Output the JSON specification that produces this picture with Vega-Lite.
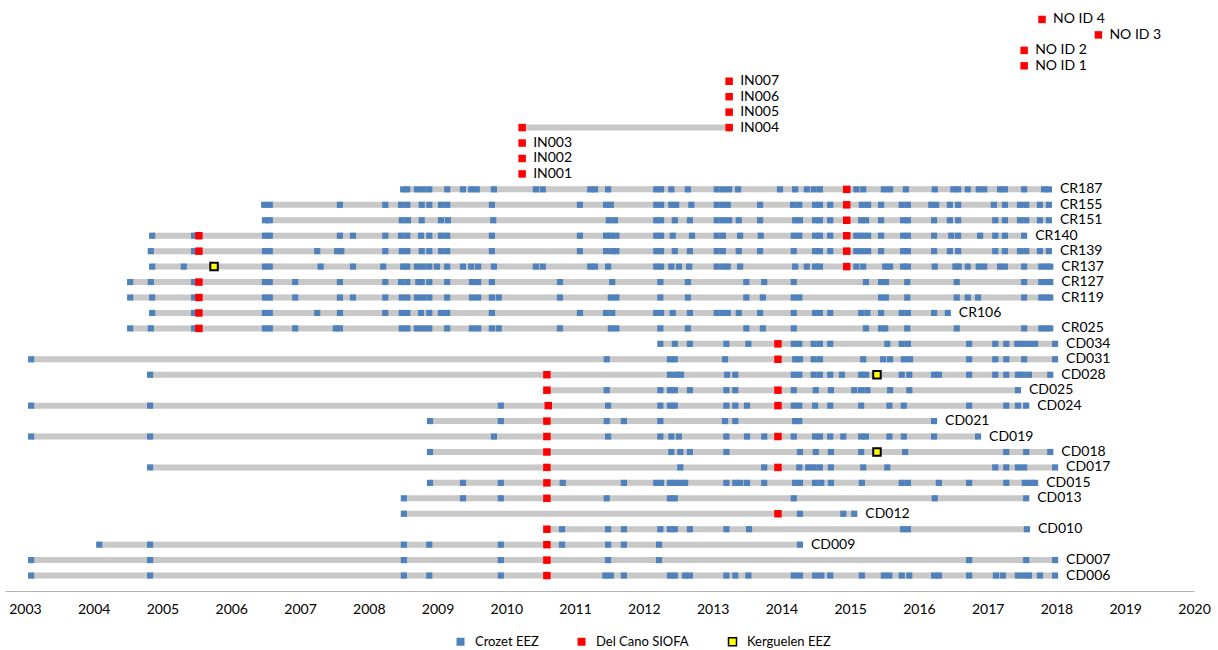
{
"$schema": "https://vega.github.io/schema/vega-lite/v6.json",
"width": 1189,
"height": 587,
"padding": {"left": 5, "top": 4, "right": 5, "bottom": 0},
"config": {"view": {"stroke": null}, "font": "Lato"},
"datasets": {
"spans": [
{"id":"CR187","start":2008.50,"end":2017.89},
{"id":"CR155","start":2006.48,"end":2017.89},
{"id":"CR151","start":2006.49,"end":2017.89},
{"id":"CR140","start":2004.85,"end":2017.53},
{"id":"CR139","start":2004.83,"end":2017.89},
{"id":"CR137","start":2004.85,"end":2017.91},
{"id":"CR127","start":2004.53,"end":2017.91},
{"id":"CR119","start":2004.53,"end":2017.91},
{"id":"CR106","start":2004.85,"end":2016.42},
{"id":"CR025","start":2004.53,"end":2017.91},
{"id":"CD034","start":2012.24,"end":2017.98},
{"id":"CD031","start":2003.09,"end":2017.98},
{"id":"CD028","start":2004.82,"end":2017.91},
{"id":"CD025","start":2010.59,"end":2017.44},
{"id":"CD024","start":2003.09,"end":2017.56},
{"id":"CD021","start":2008.89,"end":2016.22},
{"id":"CD019","start":2003.09,"end":2016.86},
{"id":"CD018","start":2008.89,"end":2017.91},
{"id":"CD017","start":2004.82,"end":2017.98},
{"id":"CD015","start":2008.89,"end":2017.69},
{"id":"CD013","start":2008.51,"end":2017.56},
{"id":"CD012","start":2008.51,"end":2015.06},
{"id":"CD010","start":2010.59,"end":2017.57},
{"id":"CD009","start":2004.08,"end":2014.27},
{"id":"CD007","start":2003.09,"end":2017.98},
{"id":"CD006","start":2003.09,"end":2017.98},
{"id":"IN001","start":2010.23,"end":2010.23},
{"id":"IN002","start":2010.23,"end":2010.23},
{"id":"IN003","start":2010.23,"end":2010.23},
{"id":"IN004","start":2010.23,"end":2013.24},
{"id":"IN005","start":2013.24,"end":2013.24},
{"id":"IN006","start":2013.24,"end":2013.24},
{"id":"IN007","start":2013.24,"end":2013.24},
{"id":"NO ID 1","start":2017.53,"end":2017.53},
{"id":"NO ID 2","start":2017.53,"end":2017.53},
{"id":"NO ID 3","start":2018.61,"end":2018.61},
{"id":"NO ID 4","start":2017.79,"end":2017.79}
],
"delcano": [
{"id":"CR187","year":2014.95},{"id":"CR155","year":2014.95},{"id":"CR151","year":2014.95},
{"id":"CR140","year":2005.53},{"id":"CR140","year":2014.95},
{"id":"CR139","year":2005.53},{"id":"CR139","year":2014.95},
{"id":"CR137","year":2014.95},
{"id":"CR127","year":2005.53},{"id":"CR119","year":2005.53},{"id":"CR106","year":2005.53},{"id":"CR025","year":2005.53},
{"id":"CD034","year":2013.95},{"id":"CD031","year":2013.95},{"id":"CD028","year":2010.59},
{"id":"CD025","year":2010.59},{"id":"CD025","year":2013.95},
{"id":"CD024","year":2010.61},{"id":"CD024","year":2013.95},
{"id":"CD021","year":2010.59},
{"id":"CD019","year":2010.59},{"id":"CD019","year":2013.95},
{"id":"CD018","year":2010.59},
{"id":"CD017","year":2010.59},{"id":"CD017","year":2013.95},
{"id":"CD015","year":2010.59},{"id":"CD013","year":2010.59},{"id":"CD012","year":2013.95},
{"id":"CD010","year":2010.59},{"id":"CD009","year":2010.59},{"id":"CD007","year":2010.59},{"id":"CD006","year":2010.59},
{"id":"IN001","year":2010.23},{"id":"IN002","year":2010.23},{"id":"IN003","year":2010.23},
{"id":"IN004","year":2010.23},{"id":"IN004","year":2013.24},
{"id":"IN005","year":2013.24},{"id":"IN006","year":2013.24},{"id":"IN007","year":2013.24},
{"id":"NO ID 1","year":2017.53},{"id":"NO ID 2","year":2017.53},{"id":"NO ID 3","year":2018.61},{"id":"NO ID 4","year":2017.79}
],
"kerguelen": [
{"id":"CR137","year":2005.75},{"id":"CD028","year":2015.39},{"id":"CD018","year":2015.39}
],
"crozet": [
{"id":"CR187","year":2008.50},{"id":"CR187","year":2008.56},{"id":"CR187","year":2008.70},{"id":"CR187","year":2008.79},{"id":"CR187","year":2008.88},{"id":"CR187","year":2009.14},{"id":"CR187","year":2009.37},{"id":"CR187","year":2009.49},{"id":"CR187","year":2009.57},{"id":"CR187","year":2009.82},{"id":"CR187","year":2010.43},{"id":"CR187","year":2010.53},{"id":"CR187","year":2011.22},{"id":"CR187","year":2011.29},{"id":"CR187","year":2011.48},{"id":"CR187","year":2012.18},{"id":"CR187","year":2012.25},{"id":"CR187","year":2012.40},{"id":"CR187","year":2012.64},{"id":"CR187","year":2013.06},{"id":"CR187","year":2013.15},{"id":"CR187","year":2013.24},{"id":"CR187","year":2013.37},{"id":"CR187","year":2013.98},{"id":"CR187","year":2014.20},{"id":"CR187","year":2014.37},{"id":"CR187","year":2014.47},{"id":"CR187","year":2014.56},{"id":"CR187","year":2015.09},{"id":"CR187","year":2015.19},{"id":"CR187","year":2015.49},{"id":"CR187","year":2015.58},{"id":"CR187","year":2015.81},{"id":"CR187","year":2016.23},{"id":"CR187","year":2016.50},{"id":"CR187","year":2016.57},{"id":"CR187","year":2016.71},{"id":"CR187","year":2016.87},{"id":"CR187","year":2016.95},{"id":"CR187","year":2017.18},{"id":"CR187","year":2017.25},{"id":"CR187","year":2017.53},{"id":"CR187","year":2017.82},{"id":"CR187","year":2017.89},
{"id":"CR155","year":2006.48},{"id":"CR155","year":2006.56},{"id":"CR155","year":2007.58},{"id":"CR155","year":2008.24},{"id":"CR155","year":2008.47},{"id":"CR155","year":2008.56},{"id":"CR155","year":2008.77},{"id":"CR155","year":2008.88},{"id":"CR155","year":2009.05},{"id":"CR155","year":2009.14},{"id":"CR155","year":2009.79},{"id":"CR155","year":2011.07},{"id":"CR155","year":2011.45},{"id":"CR155","year":2011.52},{"id":"CR155","year":2012.18},{"id":"CR155","year":2012.25},{"id":"CR155","year":2012.40},{"id":"CR155","year":2012.47},{"id":"CR155","year":2012.69},{"id":"CR155","year":2013.06},{"id":"CR155","year":2013.15},{"id":"CR155","year":2013.22},{"id":"CR155","year":2013.69},{"id":"CR155","year":2014.17},{"id":"CR155","year":2014.26},{"id":"CR155","year":2014.49},{"id":"CR155","year":2014.56},{"id":"CR155","year":2014.71},{"id":"CR155","year":2015.17},{"id":"CR155","year":2015.26},{"id":"CR155","year":2015.45},{"id":"CR155","year":2015.75},{"id":"CR155","year":2015.84},{"id":"CR155","year":2016.18},{"id":"CR155","year":2016.25},{"id":"CR155","year":2016.45},{"id":"CR155","year":2016.57},{"id":"CR155","year":2017.09},{"id":"CR155","year":2017.25},{"id":"CR155","year":2017.47},{"id":"CR155","year":2017.56},{"id":"CR155","year":2017.76},{"id":"CR155","year":2017.89},
{"id":"CR151","year":2006.49},{"id":"CR151","year":2006.56},{"id":"CR151","year":2008.48},{"id":"CR151","year":2008.57},{"id":"CR151","year":2008.77},{"id":"CR151","year":2009.05},{"id":"CR151","year":2009.15},{"id":"CR151","year":2009.81},{"id":"CR151","year":2011.49},{"id":"CR151","year":2011.58},{"id":"CR151","year":2012.18},{"id":"CR151","year":2012.25},{"id":"CR151","year":2012.45},{"id":"CR151","year":2012.67},{"id":"CR151","year":2013.06},{"id":"CR151","year":2013.15},{"id":"CR151","year":2013.24},{"id":"CR151","year":2013.38},{"id":"CR151","year":2013.69},{"id":"CR151","year":2014.20},{"id":"CR151","year":2014.27},{"id":"CR151","year":2014.49},{"id":"CR151","year":2014.56},{"id":"CR151","year":2014.71},{"id":"CR151","year":2015.16},{"id":"CR151","year":2015.23},{"id":"CR151","year":2015.45},{"id":"CR151","year":2015.77},{"id":"CR151","year":2015.84},{"id":"CR151","year":2016.22},{"id":"CR151","year":2016.45},{"id":"CR151","year":2016.57},{"id":"CR151","year":2017.11},{"id":"CR151","year":2017.25},{"id":"CR151","year":2017.47},{"id":"CR151","year":2017.56},{"id":"CR151","year":2017.76},{"id":"CR151","year":2017.89},
{"id":"CR140","year":2004.85},{"id":"CR140","year":2005.46},{"id":"CR140","year":2006.49},{"id":"CR140","year":2006.56},{"id":"CR140","year":2007.58},{"id":"CR140","year":2007.77},{"id":"CR140","year":2008.24},{"id":"CR140","year":2008.47},{"id":"CR140","year":2008.56},{"id":"CR140","year":2008.76},{"id":"CR140","year":2008.88},{"id":"CR140","year":2009.05},{"id":"CR140","year":2009.14},{"id":"CR140","year":2009.79},{"id":"CR140","year":2011.07},{"id":"CR140","year":2011.45},{"id":"CR140","year":2011.52},{"id":"CR140","year":2011.60},{"id":"CR140","year":2012.18},{"id":"CR140","year":2012.25},{"id":"CR140","year":2012.42},{"id":"CR140","year":2012.70},{"id":"CR140","year":2013.06},{"id":"CR140","year":2013.15},{"id":"CR140","year":2013.40},{"id":"CR140","year":2013.70},{"id":"CR140","year":2014.18},{"id":"CR140","year":2014.26},{"id":"CR140","year":2014.49},{"id":"CR140","year":2014.56},{"id":"CR140","year":2014.71},{"id":"CR140","year":2015.09},{"id":"CR140","year":2015.17},{"id":"CR140","year":2015.26},{"id":"CR140","year":2015.45},{"id":"CR140","year":2015.77},{"id":"CR140","year":2015.84},{"id":"CR140","year":2016.22},{"id":"CR140","year":2016.47},{"id":"CR140","year":2016.57},{"id":"CR140","year":2016.89},{"id":"CR140","year":2017.11},{"id":"CR140","year":2017.25},{"id":"CR140","year":2017.53},
{"id":"CR139","year":2004.83},{"id":"CR139","year":2005.46},{"id":"CR139","year":2006.49},{"id":"CR139","year":2006.56},{"id":"CR139","year":2007.25},{"id":"CR139","year":2007.54},{"id":"CR139","year":2007.60},{"id":"CR139","year":2008.24},{"id":"CR139","year":2008.48},{"id":"CR139","year":2008.56},{"id":"CR139","year":2008.77},{"id":"CR139","year":2008.88},{"id":"CR139","year":2009.05},{"id":"CR139","year":2009.14},{"id":"CR139","year":2009.79},{"id":"CR139","year":2011.07},{"id":"CR139","year":2011.45},{"id":"CR139","year":2011.54},{"id":"CR139","year":2011.60},{"id":"CR139","year":2012.18},{"id":"CR139","year":2012.25},{"id":"CR139","year":2012.45},{"id":"CR139","year":2012.67},{"id":"CR139","year":2013.06},{"id":"CR139","year":2013.15},{"id":"CR139","year":2013.38},{"id":"CR139","year":2013.69},{"id":"CR139","year":2014.18},{"id":"CR139","year":2014.49},{"id":"CR139","year":2014.56},{"id":"CR139","year":2014.71},{"id":"CR139","year":2015.09},{"id":"CR139","year":2015.17},{"id":"CR139","year":2015.26},{"id":"CR139","year":2015.45},{"id":"CR139","year":2015.77},{"id":"CR139","year":2015.84},{"id":"CR139","year":2016.22},{"id":"CR139","year":2016.45},{"id":"CR139","year":2016.57},{"id":"CR139","year":2017.11},{"id":"CR139","year":2017.25},{"id":"CR139","year":2017.47},{"id":"CR139","year":2017.56},{"id":"CR139","year":2017.76},{"id":"CR139","year":2017.89},
{"id":"CR137","year":2004.85},{"id":"CR137","year":2005.31},{"id":"CR137","year":2006.49},{"id":"CR137","year":2006.56},{"id":"CR137","year":2007.30},{"id":"CR137","year":2007.77},{"id":"CR137","year":2008.21},{"id":"CR137","year":2008.50},{"id":"CR137","year":2008.56},{"id":"CR137","year":2008.70},{"id":"CR137","year":2008.79},{"id":"CR137","year":2008.88},{"id":"CR137","year":2008.99},{"id":"CR137","year":2009.14},{"id":"CR137","year":2009.37},{"id":"CR137","year":2009.49},{"id":"CR137","year":2009.59},{"id":"CR137","year":2009.82},{"id":"CR137","year":2010.43},{"id":"CR137","year":2010.53},{"id":"CR137","year":2011.22},{"id":"CR137","year":2011.29},{"id":"CR137","year":2011.48},{"id":"CR137","year":2012.18},{"id":"CR137","year":2012.25},{"id":"CR137","year":2012.40},{"id":"CR137","year":2012.51},{"id":"CR137","year":2012.66},{"id":"CR137","year":2013.06},{"id":"CR137","year":2013.15},{"id":"CR137","year":2013.22},{"id":"CR137","year":2013.40},{"id":"CR137","year":2014.20},{"id":"CR137","year":2014.37},{"id":"CR137","year":2014.49},{"id":"CR137","year":2014.56},{"id":"CR137","year":2015.09},{"id":"CR137","year":2015.19},{"id":"CR137","year":2015.51},{"id":"CR137","year":2015.58},{"id":"CR137","year":2015.77},{"id":"CR137","year":2015.84},{"id":"CR137","year":2016.23},{"id":"CR137","year":2016.53},{"id":"CR137","year":2016.58},{"id":"CR137","year":2016.71},{"id":"CR137","year":2016.87},{"id":"CR137","year":2016.95},{"id":"CR137","year":2017.18},{"id":"CR137","year":2017.25},{"id":"CR137","year":2017.53},{"id":"CR137","year":2017.78},{"id":"CR137","year":2017.85},{"id":"CR137","year":2017.91},
{"id":"CR127","year":2004.53},{"id":"CR127","year":2004.83},{"id":"CR127","year":2005.46},{"id":"CR127","year":2006.49},{"id":"CR127","year":2006.56},{"id":"CR127","year":2006.93},{"id":"CR127","year":2007.58},{"id":"CR127","year":2008.24},{"id":"CR127","year":2008.47},{"id":"CR127","year":2008.56},{"id":"CR127","year":2008.72},{"id":"CR127","year":2008.77},{"id":"CR127","year":2008.88},{"id":"CR127","year":2009.14},{"id":"CR127","year":2009.50},{"id":"CR127","year":2009.59},{"id":"CR127","year":2009.79},{"id":"CR127","year":2010.78},{"id":"CR127","year":2011.54},{"id":"CR127","year":2012.24},{"id":"CR127","year":2012.64},{"id":"CR127","year":2013.49},{"id":"CR127","year":2013.75},{"id":"CR127","year":2014.18},{"id":"CR127","year":2015.23},{"id":"CR127","year":2015.45},{"id":"CR127","year":2015.52},{"id":"CR127","year":2015.83},{"id":"CR127","year":2016.55},{"id":"CR127","year":2017.53},{"id":"CR127","year":2017.78},{"id":"CR127","year":2017.85},{"id":"CR127","year":2017.91},
{"id":"CR119","year":2004.53},{"id":"CR119","year":2004.85},{"id":"CR119","year":2005.46},{"id":"CR119","year":2006.49},{"id":"CR119","year":2006.56},{"id":"CR119","year":2006.93},{"id":"CR119","year":2007.58},{"id":"CR119","year":2007.77},{"id":"CR119","year":2008.24},{"id":"CR119","year":2008.48},{"id":"CR119","year":2008.56},{"id":"CR119","year":2008.70},{"id":"CR119","year":2008.79},{"id":"CR119","year":2008.88},{"id":"CR119","year":2009.14},{"id":"CR119","year":2009.50},{"id":"CR119","year":2009.59},{"id":"CR119","year":2009.79},{"id":"CR119","year":2009.89},{"id":"CR119","year":2010.78},{"id":"CR119","year":2011.52},{"id":"CR119","year":2011.60},{"id":"CR119","year":2012.24},{"id":"CR119","year":2012.64},{"id":"CR119","year":2013.49},{"id":"CR119","year":2013.73},{"id":"CR119","year":2014.18},{"id":"CR119","year":2014.26},{"id":"CR119","year":2015.45},{"id":"CR119","year":2015.52},{"id":"CR119","year":2015.83},{"id":"CR119","year":2016.55},{"id":"CR119","year":2016.71},{"id":"CR119","year":2016.86},{"id":"CR119","year":2017.53},{"id":"CR119","year":2017.78},{"id":"CR119","year":2017.85},{"id":"CR119","year":2017.91},
{"id":"CR106","year":2004.85},{"id":"CR106","year":2005.46},{"id":"CR106","year":2006.49},{"id":"CR106","year":2006.56},{"id":"CR106","year":2007.25},{"id":"CR106","year":2007.58},{"id":"CR106","year":2008.24},{"id":"CR106","year":2008.48},{"id":"CR106","year":2008.56},{"id":"CR106","year":2008.76},{"id":"CR106","year":2008.88},{"id":"CR106","year":2009.05},{"id":"CR106","year":2009.14},{"id":"CR106","year":2009.79},{"id":"CR106","year":2011.07},{"id":"CR106","year":2011.45},{"id":"CR106","year":2011.54},{"id":"CR106","year":2012.18},{"id":"CR106","year":2012.25},{"id":"CR106","year":2012.42},{"id":"CR106","year":2012.67},{"id":"CR106","year":2013.06},{"id":"CR106","year":2013.15},{"id":"CR106","year":2013.22},{"id":"CR106","year":2013.38},{"id":"CR106","year":2013.69},{"id":"CR106","year":2014.18},{"id":"CR106","year":2014.49},{"id":"CR106","year":2014.56},{"id":"CR106","year":2014.71},{"id":"CR106","year":2015.16},{"id":"CR106","year":2015.25},{"id":"CR106","year":2015.45},{"id":"CR106","year":2015.75},{"id":"CR106","year":2015.84},{"id":"CR106","year":2016.22},{"id":"CR106","year":2016.42},
{"id":"CR025","year":2004.53},{"id":"CR025","year":2004.83},{"id":"CR025","year":2005.46},{"id":"CR025","year":2006.49},{"id":"CR025","year":2006.56},{"id":"CR025","year":2006.93},{"id":"CR025","year":2007.52},{"id":"CR025","year":2007.58},{"id":"CR025","year":2008.48},{"id":"CR025","year":2008.56},{"id":"CR025","year":2008.70},{"id":"CR025","year":2008.79},{"id":"CR025","year":2008.88},{"id":"CR025","year":2009.14},{"id":"CR025","year":2009.50},{"id":"CR025","year":2009.59},{"id":"CR025","year":2009.79},{"id":"CR025","year":2009.89},{"id":"CR025","year":2010.78},{"id":"CR025","year":2011.52},{"id":"CR025","year":2011.60},{"id":"CR025","year":2012.24},{"id":"CR025","year":2012.64},{"id":"CR025","year":2013.49},{"id":"CR025","year":2013.73},{"id":"CR025","year":2014.18},{"id":"CR025","year":2015.23},{"id":"CR025","year":2015.45},{"id":"CR025","year":2015.51},{"id":"CR025","year":2015.83},{"id":"CR025","year":2016.55},{"id":"CR025","year":2017.53},{"id":"CR025","year":2017.78},{"id":"CR025","year":2017.85},{"id":"CR025","year":2017.91},
{"id":"CD034","year":2012.24},{"id":"CD034","year":2012.45},{"id":"CD034","year":2012.67},{"id":"CD034","year":2013.20},{"id":"CD034","year":2013.52},{"id":"CD034","year":2014.18},{"id":"CD034","year":2014.26},{"id":"CD034","year":2014.47},{"id":"CD034","year":2014.56},{"id":"CD034","year":2014.71},{"id":"CD034","year":2015.54},{"id":"CD034","year":2015.75},{"id":"CD034","year":2015.84},{"id":"CD034","year":2016.73},{"id":"CD034","year":2017.11},{"id":"CD034","year":2017.27},{"id":"CD034","year":2017.43},{"id":"CD034","year":2017.51},{"id":"CD034","year":2017.60},{"id":"CD034","year":2017.69},{"id":"CD034","year":2017.98},
{"id":"CD031","year":2003.09},{"id":"CD031","year":2011.46},{"id":"CD031","year":2012.38},{"id":"CD031","year":2012.45},{"id":"CD031","year":2013.18},{"id":"CD031","year":2014.20},{"id":"CD031","year":2014.27},{"id":"CD031","year":2014.47},{"id":"CD031","year":2014.56},{"id":"CD031","year":2015.19},{"id":"CD031","year":2015.48},{"id":"CD031","year":2015.58},{"id":"CD031","year":2015.78},{"id":"CD031","year":2015.87},{"id":"CD031","year":2016.73},{"id":"CD031","year":2017.11},{"id":"CD031","year":2017.27},{"id":"CD031","year":2017.53},{"id":"CD031","year":2017.98},
{"id":"CD028","year":2004.82},{"id":"CD028","year":2012.38},{"id":"CD028","year":2012.47},{"id":"CD028","year":2012.54},{"id":"CD028","year":2013.21},{"id":"CD028","year":2013.33},{"id":"CD028","year":2014.18},{"id":"CD028","year":2014.26},{"id":"CD028","year":2014.47},{"id":"CD028","year":2014.56},{"id":"CD028","year":2014.71},{"id":"CD028","year":2014.88},{"id":"CD028","year":2015.16},{"id":"CD028","year":2015.23},{"id":"CD028","year":2015.75},{"id":"CD028","year":2015.86},{"id":"CD028","year":2016.22},{"id":"CD028","year":2016.29},{"id":"CD028","year":2016.73},{"id":"CD028","year":2017.11},{"id":"CD028","year":2017.27},{"id":"CD028","year":2017.44},{"id":"CD028","year":2017.51},{"id":"CD028","year":2017.60},{"id":"CD028","year":2017.91},
{"id":"CD025","year":2011.46},{"id":"CD025","year":2012.24},{"id":"CD025","year":2012.38},{"id":"CD025","year":2012.45},{"id":"CD025","year":2012.67},{"id":"CD025","year":2013.20},{"id":"CD025","year":2013.33},{"id":"CD025","year":2014.18},{"id":"CD025","year":2014.50},{"id":"CD025","year":2014.72},{"id":"CD025","year":2015.06},{"id":"CD025","year":2015.16},{"id":"CD025","year":2015.25},{"id":"CD025","year":2015.58},{"id":"CD025","year":2015.86},{"id":"CD025","year":2017.44},
{"id":"CD024","year":2003.09},{"id":"CD024","year":2004.82},{"id":"CD024","year":2009.92},{"id":"CD024","year":2011.48},{"id":"CD024","year":2012.24},{"id":"CD024","year":2012.38},{"id":"CD024","year":2012.45},{"id":"CD024","year":2013.20},{"id":"CD024","year":2013.33},{"id":"CD024","year":2013.50},{"id":"CD024","year":2014.18},{"id":"CD024","year":2014.26},{"id":"CD024","year":2014.49},{"id":"CD024","year":2014.71},{"id":"CD024","year":2015.16},{"id":"CD024","year":2015.57},{"id":"CD024","year":2015.78},{"id":"CD024","year":2016.73},{"id":"CD024","year":2017.27},{"id":"CD024","year":2017.44},{"id":"CD024","year":2017.56},
{"id":"CD021","year":2008.89},{"id":"CD021","year":2009.92},{"id":"CD021","year":2011.46},{"id":"CD021","year":2011.71},{"id":"CD021","year":2012.24},{"id":"CD021","year":2013.18},{"id":"CD021","year":2013.33},{"id":"CD021","year":2014.20},{"id":"CD021","year":2014.26},{"id":"CD021","year":2016.22},
{"id":"CD019","year":2003.09},{"id":"CD019","year":2004.82},{"id":"CD019","year":2009.82},{"id":"CD019","year":2011.48},{"id":"CD019","year":2012.24},{"id":"CD019","year":2012.40},{"id":"CD019","year":2012.51},{"id":"CD019","year":2013.20},{"id":"CD019","year":2013.50},{"id":"CD019","year":2013.75},{"id":"CD019","year":2014.18},{"id":"CD019","year":2014.49},{"id":"CD019","year":2014.56},{"id":"CD019","year":2014.71},{"id":"CD019","year":2014.90},{"id":"CD019","year":2015.16},{"id":"CD019","year":2015.23},{"id":"CD019","year":2015.57},{"id":"CD019","year":2015.78},{"id":"CD019","year":2016.22},{"id":"CD019","year":2016.86},
{"id":"CD018","year":2008.89},{"id":"CD018","year":2012.40},{"id":"CD018","year":2012.53},{"id":"CD018","year":2012.67},{"id":"CD018","year":2013.20},{"id":"CD018","year":2014.27},{"id":"CD018","year":2014.50},{"id":"CD018","year":2014.72},{"id":"CD018","year":2015.16},{"id":"CD018","year":2015.80},{"id":"CD018","year":2017.27},{"id":"CD018","year":2017.56},{"id":"CD018","year":2017.91},
{"id":"CD017","year":2004.82},{"id":"CD017","year":2012.53},{"id":"CD017","year":2013.75},{"id":"CD017","year":2014.26},{"id":"CD017","year":2014.39},{"id":"CD017","year":2014.47},{"id":"CD017","year":2014.56},{"id":"CD017","year":2014.72},{"id":"CD017","year":2015.19},{"id":"CD017","year":2015.54},{"id":"CD017","year":2017.11},{"id":"CD017","year":2017.27},{"id":"CD017","year":2017.44},{"id":"CD017","year":2017.53},{"id":"CD017","year":2017.98},
{"id":"CD015","year":2008.89},{"id":"CD015","year":2009.37},{"id":"CD015","year":2009.92},{"id":"CD015","year":2010.82},{"id":"CD015","year":2011.71},{"id":"CD015","year":2012.18},{"id":"CD015","year":2012.25},{"id":"CD015","year":2012.38},{"id":"CD015","year":2012.45},{"id":"CD015","year":2012.53},{"id":"CD015","year":2012.60},{"id":"CD015","year":2013.20},{"id":"CD015","year":2013.33},{"id":"CD015","year":2013.40},{"id":"CD015","year":2013.50},{"id":"CD015","year":2013.75},{"id":"CD015","year":2014.20},{"id":"CD015","year":2014.27},{"id":"CD015","year":2014.49},{"id":"CD015","year":2014.58},{"id":"CD015","year":2014.72},{"id":"CD015","year":2015.17},{"id":"CD015","year":2015.75},{"id":"CD015","year":2015.84},{"id":"CD015","year":2016.29},{"id":"CD015","year":2016.73},{"id":"CD015","year":2017.27},{"id":"CD015","year":2017.54},{"id":"CD015","year":2017.62},{"id":"CD015","year":2017.69},
{"id":"CD013","year":2008.51},{"id":"CD013","year":2009.37},{"id":"CD013","year":2009.92},{"id":"CD013","year":2011.46},{"id":"CD013","year":2012.38},{"id":"CD013","year":2012.45},{"id":"CD013","year":2014.18},{"id":"CD013","year":2016.23},{"id":"CD013","year":2017.56},
{"id":"CD012","year":2008.51},{"id":"CD012","year":2014.27},{"id":"CD012","year":2014.90},{"id":"CD012","year":2015.06},
{"id":"CD010","year":2010.81},{"id":"CD010","year":2011.48},{"id":"CD010","year":2011.71},{"id":"CD010","year":2012.24},{"id":"CD010","year":2012.38},{"id":"CD010","year":2012.45},{"id":"CD010","year":2012.67},{"id":"CD010","year":2013.20},{"id":"CD010","year":2013.53},{"id":"CD010","year":2015.77},{"id":"CD010","year":2015.84},{"id":"CD010","year":2017.57},
{"id":"CD009","year":2004.08},{"id":"CD009","year":2004.82},{"id":"CD009","year":2008.51},{"id":"CD009","year":2008.88},{"id":"CD009","year":2009.92},{"id":"CD009","year":2010.81},{"id":"CD009","year":2011.48},{"id":"CD009","year":2011.71},{"id":"CD009","year":2012.22},{"id":"CD009","year":2014.27},
{"id":"CD007","year":2003.09},{"id":"CD007","year":2004.82},{"id":"CD007","year":2008.51},{"id":"CD007","year":2009.92},{"id":"CD007","year":2011.48},{"id":"CD007","year":2012.22},{"id":"CD007","year":2016.73},{"id":"CD007","year":2017.56},{"id":"CD007","year":2017.98},
{"id":"CD006","year":2003.09},{"id":"CD006","year":2004.82},{"id":"CD006","year":2008.51},{"id":"CD006","year":2008.88},{"id":"CD006","year":2009.92},{"id":"CD006","year":2011.44},{"id":"CD006","year":2011.52},{"id":"CD006","year":2011.71},{"id":"CD006","year":2012.38},{"id":"CD006","year":2012.45},{"id":"CD006","year":2012.60},{"id":"CD006","year":2012.67},{"id":"CD006","year":2013.20},{"id":"CD006","year":2013.33},{"id":"CD006","year":2013.52},{"id":"CD006","year":2014.18},{"id":"CD006","year":2014.27},{"id":"CD006","year":2014.49},{"id":"CD006","year":2014.58},{"id":"CD006","year":2014.71},{"id":"CD006","year":2015.17},{"id":"CD006","year":2015.49},{"id":"CD006","year":2015.57},{"id":"CD006","year":2015.75},{"id":"CD006","year":2015.86},{"id":"CD006","year":2016.22},{"id":"CD006","year":2016.29},{"id":"CD006","year":2016.73},{"id":"CD006","year":2017.12},{"id":"CD006","year":2017.22},{"id":"CD006","year":2017.44},{"id":"CD006","year":2017.53},{"id":"CD006","year":2017.60},{"id":"CD006","year":2017.76},{"id":"CD006","year":2017.98}
]
},
"encoding": {
"y": {"field": "id", "type": "nominal", "axis": null,
 "scale": {"type": "point", "padding": 1, "domain": ["NO ID 4","NO ID 3","NO ID 2","NO ID 1","IN007","IN006","IN005","IN004","IN003","IN002","IN001","CR187","CR155","CR151","CR140","CR139","CR137","CR127","CR119","CR106","CR025","CD034","CD031","CD028","CD025","CD024","CD021","CD019","CD018","CD017","CD015","CD013","CD012","CD010","CD009","CD007","CD006"]}}
},
"layer": [
{"data": {"name": "spans"},
 "mark": {"type": "rule", "color": "#C8C8C8", "strokeWidth": 6, "strokeCap": "butt"},
 "encoding": {
  "x": {"field": "start", "type": "quantitative",
   "scale": {"domain": [2002.71, 2020], "nice": false, "zero": false},
   "axis": {"title": null, "values": [2003,2004,2005,2006,2007,2008,2009,2010,2011,2012,2013,2014,2015,2016,2017,2018,2019,2020], "format": "d", "grid": false, "ticks": false, "domainColor": "#B4B4B4", "domainWidth": 1, "labelFont": "Lato", "labelFontSize": 14, "labelColor": "#000000", "labelPadding": 11, "labelFlush": false}},
  "x2": {"field": "end"}
 }},
{"data": {"name": "crozet"},
 "mark": {"type": "square", "size": 38, "opacity": 1},
 "encoding": {
  "x": {"field": "year", "type": "quantitative"},
  "color": {"datum": "Crozet EEZ", "type": "nominal",
   "scale": {"domain": ["Crozet EEZ", "Del Cano SIOFA", "Kerguelen EEZ"], "range": ["#4F81BD", "#FF0000", "#FFFF00"]},
   "legend": {"title": null, "orient": "none", "legendX": 449, "legendY": 631, "direction": "horizontal", "symbolType": "square", "symbolSize": 64, "symbolOpacity": 1, "labelFont": "Lato", "labelFontSize": 13, "labelColor": "#000000", "labelOffset": 8, "columnPadding": 36,
    "encode": {"symbols": {"update": {"stroke": {"value": "black"}, "strokeWidth": {"signal": "datum.value === 'Kerguelen EEZ' ? 1.5 : 0"}}}}}}
 }},
{"data": {"name": "delcano"},
 "mark": {"type": "square", "size": 56, "opacity": 1},
 "encoding": {
  "x": {"field": "year", "type": "quantitative"},
  "color": {"datum": "Del Cano SIOFA", "type": "nominal"}
 }},
{"data": {"name": "kerguelen"},
 "mark": {"type": "square", "size": 56, "opacity": 1, "stroke": "black", "strokeWidth": 2},
 "encoding": {
  "x": {"field": "year", "type": "quantitative"},
  "color": {"datum": "Kerguelen EEZ", "type": "nominal"}
 }},
{"data": {"name": "spans"},
 "mark": {"type": "text", "align": "left", "baseline": "middle", "dx": 11, "font": "Lato", "fontSize": 14, "color": "#000000"},
 "encoding": {
  "x": {"field": "end", "type": "quantitative"},
  "text": {"field": "id"}
 }}
]
}
